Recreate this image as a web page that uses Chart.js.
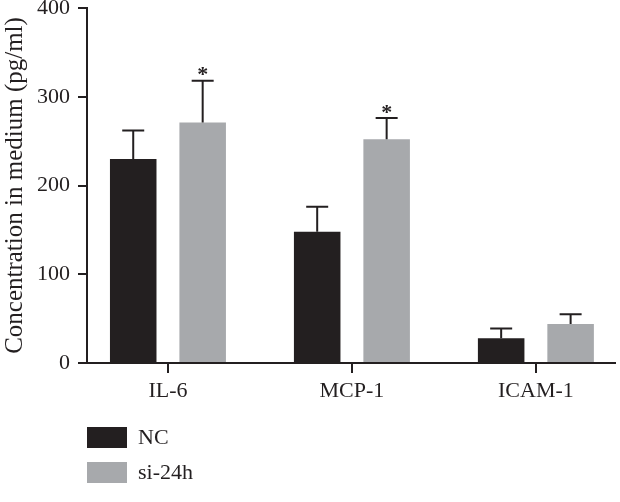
<!DOCTYPE html>
<html>
<head>
<meta charset="utf-8">
<script src="https://cdn.jsdelivr.net/npm/chart.js@4"></script>
<style>
  html, body { margin: 0; padding: 0; background: #fff; }
  #wrap { width: 620px; height: 502px; }
</style>
</head>
<body>
<div id="wrap"><canvas id="grafico" width="620" height="502"></canvas></div>
<script>
const categorias = ['IL-6', 'MCP-1', 'ICAM-1'];
const seriesNombres = ['NC', 'si-24h'];
const ncValores = [230, 148, 28];
const ncError = [32, 28, 11];
const siValores = [271, 252, 44];
const siError = [47, 24, 11];
const siSignif = ['*', '*', ''];
const yTicks = [0, 100, 200, 300, 400];

const oscuro = '#231f20';
const gris = '#a7a9ac';
const fuente = "'Liberation Serif', 'DejaVu Serif', serif";

// barras de error (solo hacia arriba) y asteriscos
const errorBars = {
    id: 'errorBars',
    afterDatasetsDraw(chart) {
        const ctx = chart.ctx;
        const y = chart.scales.y;
        ctx.save();
        ctx.strokeStyle = oscuro;
        ctx.lineWidth = 2;
        chart.data.datasets.forEach((ds, d) => {
            const meta = chart.getDatasetMeta(d);
            meta.data.forEach((bar, i) => {
                const val = ds.data[i].y;
                const top = y.getPixelForValue(val + ds.errores[i]);
                ctx.beginPath();
                ctx.moveTo(bar.x, bar.y);
                ctx.lineTo(bar.x, top);
                ctx.moveTo(bar.x - 11, top);
                ctx.lineTo(bar.x + 11, top);
                ctx.stroke();
                const marca = ds.signif ? ds.signif[i] : '';
                if (marca) {
                    ctx.fillStyle = oscuro;
                    ctx.font = 'bold 22px ' + fuente;
                    ctx.textAlign = 'center';
                    ctx.textBaseline = 'middle';
                    ctx.fillText(marca, bar.x, top - 5);
                }
            });
        });
        ctx.restore();
    }
};

// leyenda vertical abajo a la izquierda
const leyenda = {
    id: 'leyendaVertical',
    afterDraw(chart) {
        const ctx = chart.ctx;
        const left = chart.chartArea.left;
        let top = chart.scales.x.bottom + 24;
        ctx.save();
        ctx.font = '22px ' + fuente;
        ctx.textAlign = 'left';
        ctx.textBaseline = 'middle';
        chart.data.datasets.forEach(ds => {
            ctx.fillStyle = ds.backgroundColor;
            ctx.fillRect(left, top, 40, 21);
            ctx.fillStyle = oscuro;
            ctx.fillText(ds.label, left + 51, top + 11);
            top += 35;
        });
        ctx.restore();
    }
};

new Chart(document.getElementById('grafico').getContext('2d'), {
    type: 'bar',
    data: {
        datasets: [{
            label: seriesNombres[0],
            data: ncValores.map((v, i) => ({ x: i, y: v })),
            errores: ncError,
            backgroundColor: oscuro
        }, {
            label: seriesNombres[1],
            data: siValores.map((v, i) => ({ x: i, y: v })),
            errores: siError,
            signif: siSignif,
            backgroundColor: gris
        }]
    },
    options: {
        responsive: false,
        animation: false,
        categoryPercentage: 0.755,
        barPercentage: 0.67,
        layout: { padding: { top: 0, right: 5, bottom: 99, left: 0 } },
        plugins: {
            legend: { display: false },
            tooltip: { enabled: false }
        },
        scales: {
            x: {
                type: 'linear',
                offset: false,
                min: -0.44,
                max: 2.43,
                afterBuildTicks: axis => { axis.ticks = categorias.map((c, i) => ({ value: i })); },
                afterFit: axis => { axis.height = 40; },
                border: { color: oscuro, width: 2 },
                grid: { offset: false, drawOnChartArea: false, drawTicks: true, tickLength: 10, color: oscuro, lineWidth: 2 },
                ticks: {
                    callback: v => categorias[v],
                    color: oscuro,
                    font: { family: fuente, size: 22 },
                    padding: 5,
                    maxRotation: 0
                }
            },
            y: {
                min: 0,
                max: 400,
                afterBuildTicks: axis => { axis.ticks = yTicks.map(v => ({ value: v })); },
                afterFit: axis => { axis.width = 87; axis.paddingTop = 8; },
                border: { color: oscuro, width: 2 },
                grid: { drawOnChartArea: false, drawTicks: true, tickLength: 9, color: oscuro, lineWidth: 2 },
                ticks: {
                    color: oscuro,
                    font: { family: fuente, size: 22 },
                    padding: 8
                },
                title: {
                    display: true,
                    text: 'Concentration in medium (pg/ml)',
                    color: oscuro,
                    font: { family: fuente, size: 25 },
                    padding: 0
                }
            }
        }
    },
    plugins: [errorBars, leyenda]
});
</script>
</body>
</html>
